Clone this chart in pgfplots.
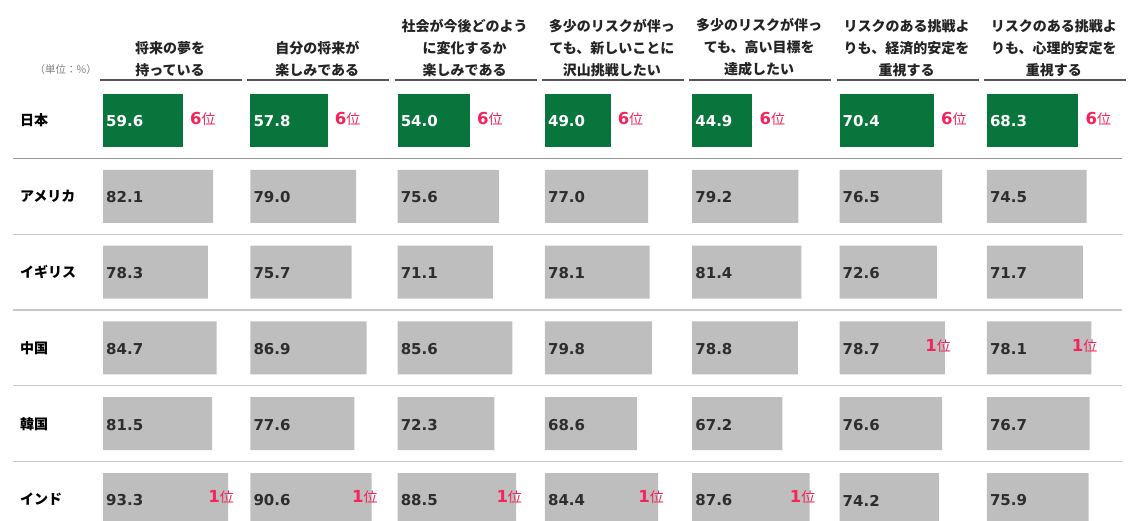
\documentclass[border=0pt]{standalone}
\usepackage{fontspec}
\usepackage{pgfplots}
\usepackage{pgfplotstable}
\pgfplotsset{compat=1.18}
\setmainfont{DejaVu Sans}
\newfontfamily\jp{Noto Sans CJK JP}

\definecolor{jpgreen}{RGB}{8,118,60}
\definecolor{bargray}{RGB}{190,190,190}
\definecolor{numdark}{RGB}{45,45,45}
\definecolor{rankred}{RGB}{245,35,90}
\definecolor{hdgray}{RGB}{35,35,35}
\definecolor{lineDark}{RGB}{85,85,85}
\definecolor{sepdark}{RGB}{150,150,150}
\definecolor{seplight}{RGB}{200,200,200}

% values in %, one column per question
\pgfplotstableread{
r z v1 v2 v3 v4 v5 v6 v7
0 0 59.6 57.8 54.0 49.0 44.9 70.4 68.3
}\japan

\pgfplotstableread{
r z v1 v2 v3 v4 v5 v6 v7
1 0 82.1 79.0 75.6 77.0 79.2 76.5 74.5
2 0 78.3 75.7 71.1 78.1 81.4 72.6 71.7
3 0 84.7 86.9 85.6 79.8 78.8 78.7 78.1
4 0 81.5 77.6 72.3 68.6 67.2 76.6 76.7
5 0 93.3 90.6 88.5 84.4 87.6 74.2 75.9
}\others

\pgfplotstableread{
r lx name
0 -62 日本
1 -62 アメリカ
2 -62 イギリス
3 -62 中国
4 -62 韓国
5 -62 インド
}\names

\newcommand{\rk}[1]{\textcolor{rankred}{\bfseries\fontsize{16.5}{16.5}\selectfont #1}\textcolor{rankred}{\jp\fontsize{14}{14}\selectfont 位}}

\pgfplotsset{
  panel/.style={
    scale only axis, width=134pt, height=454.8pt,
    xmin=0, xmax=100, ymin=-0.5, ymax=5.5, y dir=reverse,
    axis lines=none, clip=false, anchor=north west,
    title style={at={(0.5,1)}, anchor=south, yshift=0pt, inner sep=0pt,
      font=\jp\bfseries\fontsize{14}{22}\selectfont, text=hdgray, align=center},
  },
  bars/.style={xbar, bar shift=0pt, bar width=53pt, draw=none},
  inlabel/.style={draw=none, mark=none, nodes near coords={\pgfplotspointmeta},
    point meta=explicit symbolic,
    nodes near coords style={anchor=west, inner sep=0pt, xshift=3pt, yshift=-1pt,
      font=\bfseries\fontsize{15}{15}\selectfont, text=#1}},
  rankone/.style={draw=none, mark=none, nodes near coords={\rk{1}},
    nodes near coords style={anchor=east, inner sep=0pt, xshift=6pt, yshift=2pt}},
}

\newcommand{\panel}[4]{%
\begin{axis}[panel, at={(#2pt,-82.6pt)}, title={#3}]
\addplot[bars, fill=jpgreen, nodes near coords={\rk{6}},
  nodes near coords style={anchor=west, inner sep=0pt, xshift=7pt, yshift=2pt}]
  table[x=v#1, y=r] {\japan};
\addplot[bars, fill=bargray] table[x=v#1, y=r] {\others};
\addplot[inlabel=white] table[x=z, y=r, meta=v#1] {\japan};
\addplot[inlabel=numdark] table[x=z, y=r, meta=v#1] {\others};
\draw[lineDark, line width=1.3pt] ([xshift=-3pt,yshift=2.5pt]rel axis cs:0,1) -- ([xshift=5pt,yshift=2.5pt]rel axis cs:1,1);
#4
\end{axis}}

\begin{document}
\begin{tikzpicture}
\path[use as bounding box] (0,0) rectangle (1130pt,-520pt);

\panel{1}{103}{将来の夢を\\持っている}{%
  \addplot[draw=none, mark=none, nodes near coords={\pgfplotspointmeta}, point meta=explicit symbolic,
    nodes near coords style={anchor=west, inner sep=0pt, font=\jp\bfseries\fontsize{14}{14}\selectfont, text=black}]
    table[x=lx, y=r, meta=name] {\names};
  \addplot[rankone] coordinates {(93.3,5)};}
\panel{2}{250.3}{自分の将来が\\楽しみである}{\addplot[rankone] coordinates {(90.6,5)};}
\panel{3}{397.6}{社会が今後どのよう\\に変化するか\\楽しみである}{\addplot[rankone] coordinates {(88.5,5)};}
\panel{4}{544.9}{多少のリスクが伴っ\\ても、新しいことに\\沢山挑戦したい}{\addplot[rankone] coordinates {(84.4,5)};}
\panel{5}{692.2}{多少のリスクが伴っ\\ても、高い目標を\\達成したい}{\addplot[rankone] coordinates {(87.6,5)};}
\panel{6}{839.5}{リスクのある挑戦よ\\りも、経済的安定を\\重視する}{\addplot[rankone] coordinates {(78.7,3)};}
\panel{7}{986.8}{リスクのある挑戦よ\\りも、心理的安定を\\重視する}{\addplot[rankone] coordinates {(78.1,3)};}

\node[anchor=east, inner sep=0pt, text=gray, font=\jp\fontsize{10.5}{10.5}\selectfont] at (97pt,-70pt) {（単位：\%）};

\draw[sepdark, line width=1.3pt] (13pt,-158.4pt) -- (1122pt,-158.4pt);
\draw[seplight, line width=1.2pt] (13pt,-234.2pt) -- (1122pt,-234.2pt);
\draw[seplight, line width=1.2pt] (13pt,-310pt) -- (1122pt,-310pt);
\draw[seplight, line width=1.2pt] (13pt,-385.8pt) -- (1122pt,-385.8pt);
\draw[seplight, line width=1.2pt] (13pt,-461.6pt) -- (1122pt,-461.6pt);
\end{tikzpicture}
\end{document}
